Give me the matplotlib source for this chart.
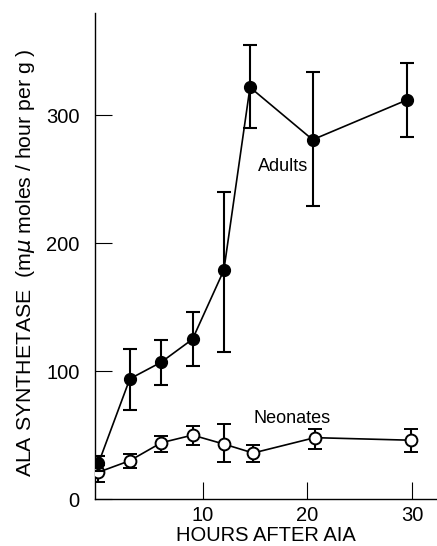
import matplotlib
matplotlib.use("Agg")
import matplotlib.pyplot as plt

plt.rcParams['font.family'] = ['Liberation Sans', 'DejaVu Sans']

adult_hours = [0, 3, 6, 9, 12, 14.5, 20.5, 29.5]
adult_vals = [28, 94, 107, 125, 179, 322, 281, 312]
adult_err_lo = [6, 24, 18, 21, 64, 32, 52, 29]
adult_err_hi = [6, 23, 17, 21, 61, 33, 53, 29]

neo_hours = [0, 3, 6, 9, 12, 14.8, 20.7, 29.9]
neo_vals = [21, 30, 44, 50, 43, 36, 48, 46]
neo_err_lo = [8, 6, 7, 8, 14, 7, 9, 9]
neo_err_hi = [6, 5, 5, 7, 16, 6, 7, 9]

x_ticks = [10, 20, 30]
y_ticks = [0, 100, 200, 300]

fig = plt.figure(figsize=(4.37, 5.46), dpi=100)
ax = fig.add_axes([0.217, 0.086, 0.783, 0.89])

ax.errorbar(neo_hours, neo_vals, yerr=[neo_err_lo, neo_err_hi], fmt='-o',
            color='black', mfc='white', mec='black', ms=8.5, mew=1.4, lw=1.2,
            elinewidth=1.5, capsize=5, capthick=1.5, zorder=3)
ax.errorbar(adult_hours, adult_vals, yerr=[adult_err_lo, adult_err_hi], fmt='-o',
            color='black', mfc='black', mec='black', ms=8.5, lw=1.2,
            elinewidth=1.5, capsize=5, capthick=1.5, zorder=4)

ax.text(15.3, 260, 'Adults', fontsize=13, ha='left', va='center')
ax.text(14.8, 63, 'Neonates', fontsize=13, ha='left', va='center')

ax.set_xlim(-0.35, 32.4)
ax.set_ylim(0, 380)
ax.set_xticks(x_ticks)
ax.set_yticks(y_ticks)
ax.tick_params(direction='in', length=12, width=0.8, labelsize=14.5)
ax.tick_params(axis='x', pad=5)
ax.tick_params(axis='y', pad=11)
for s in ['top', 'right']:
    ax.spines[s].set_visible(False)
for s in ['left', 'bottom']:
    ax.spines[s].set_linewidth(1.0)

ax.set_xlabel('HOURS AFTER AIA', fontsize=14.5, labelpad=1)
ax.set_ylabel('ALA SYNTHETASE  (m$\\mu$ moles / hour per g )', fontsize=15.3)
ax.yaxis.set_label_coords(-0.17, 0.487)

fig.savefig('out.png', dpi=100)
